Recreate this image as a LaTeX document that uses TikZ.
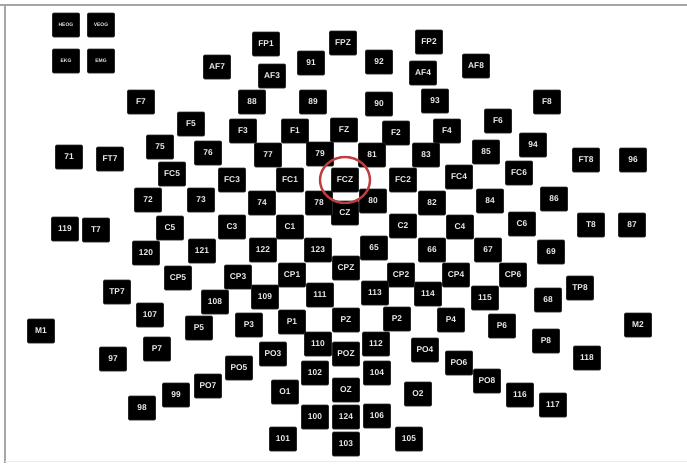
\documentclass[tikz,border=0pt]{standalone}
\usepackage{fontspec}
\setmainfont{Liberation Sans}
\begin{document}
\begin{tikzpicture}[x=1pt,y=-1pt,
  el/.style={fill=black, draw=black!85, line width=0.6pt, rounded corners=1pt,
    minimum width=27pt, minimum height=24pt, inner sep=0pt,
    text=white!92!black, font=\bfseries\fontsize{8.4}{9}\selectfont},
  elsm/.style={el, font=\bfseries\fontsize{5}{5.5}\selectfont},
  frameline/.style={draw=black!35, line width=2pt},
  mark ring/.style={draw={rgb,255:red,190;green,60;blue,62}, line width=2.4pt}]
\useasboundingbox (0,0) rectangle (687,463);
\fill[white] (0,0) rectangle (687,463);
\draw[frameline] (0,5) -- (687,5);
\draw[frameline] (5,5) -- (5,463);
\draw[draw=black!8, line width=1pt] (5,461) -- (687,461);
% small auxiliary boxes
\foreach \t/\x/\y in {HEOG/66/25, VEOG/101/25, EKG/66/61, EMG/101/61}
  \node[elsm] (n\t) at (\x,\y) {\t};
% electrodes
\foreach \t/\x/\y in {
 FP1/266/44, FPZ/343/43, FP2/429/42, 91/311/63, 92/379/62,
 AF3/272/76, AF4/423/73, AF7/217/67, AF8/476/66,
 88/252/102, 89/313/102, 90/379/104, 93/435/101,
 F7/141/102, F8/547/102, F5/191/124, F6/498/121,
 F3/243/131, F1/295/131, FZ/344/130, F2/396/133, F4/447/131,
 75/160/147, 76/208/153, 77/268/155, 79/320/154, 81/372/155, 83/426/155,
 85/486/152, 94/533/145,
 71/69/157, FT7/110/159, FT8/586/160, 96/633/160,
 FC5/172/174, FC3/232/180, FC1/290/180, FCZ/345/180, FC2/403/180,
 FC4/459/177, FC6/519/173,
 72/148/200, 73/201/200, 74/262/203, CZ/345/213, 78/319/203, 80/373/201,
 82/432/203, 84/490/201, 86/554/199,
 119/65/229, T7/96/230, C5/170/228, C3/232/227, C1/290/227, C2/403/226,
 C4/460/227, C6/522/224, T8/591/225, 87/632/225,
 120/146/253, 121/202/251, 122/263/250, 123/318/250, 65/374/248,
 66/432/250, 67/488/250, 69/551/252,
 CP5/178/278, CP3/238/277, CP1/292/275, CPZ/346/268, CP2/401/275,
 CP4/456/275, CP6/513/275, TP7/117/292, TP8/580/288,
 108/215/302, 109/265/297, 111/320/295, 113/375/293, 114/428/294,
 115/485/298, 68/548/300,
 107/150/315, P5/199/328, P3/249/325, P1/292/322, PZ/346/320, P2/397/319,
 P4/451/320, P6/502/326, P8/546/341, M1/41/331, M2/638/325,
 P7/157/349, 97/113/359, 118/587/358,
 110/318/344, 112/376/344, POZ/346/354, PO3/273/354, PO4/425/350,
 PO5/239/368, PO6/459/363, PO7/208/386, PO8/487/381,
 99/176/395, 98/142/408, 116/520/395, 117/553/405,
 102/315/373, 104/377/373, O1/285/392, OZ/346/390, O2/418/394,
 100/315/417, 124/346/417, 106/377/416,
 101/283/439, 103/346/444, 105/409/439}
  \node[el] (n\t) at (\x,\y) {\t};
% highlight ring around FCZ
\draw[mark ring] (nFCZ.center) ellipse [x radius=25pt, y radius=23pt];
\end{tikzpicture}
\end{document}
